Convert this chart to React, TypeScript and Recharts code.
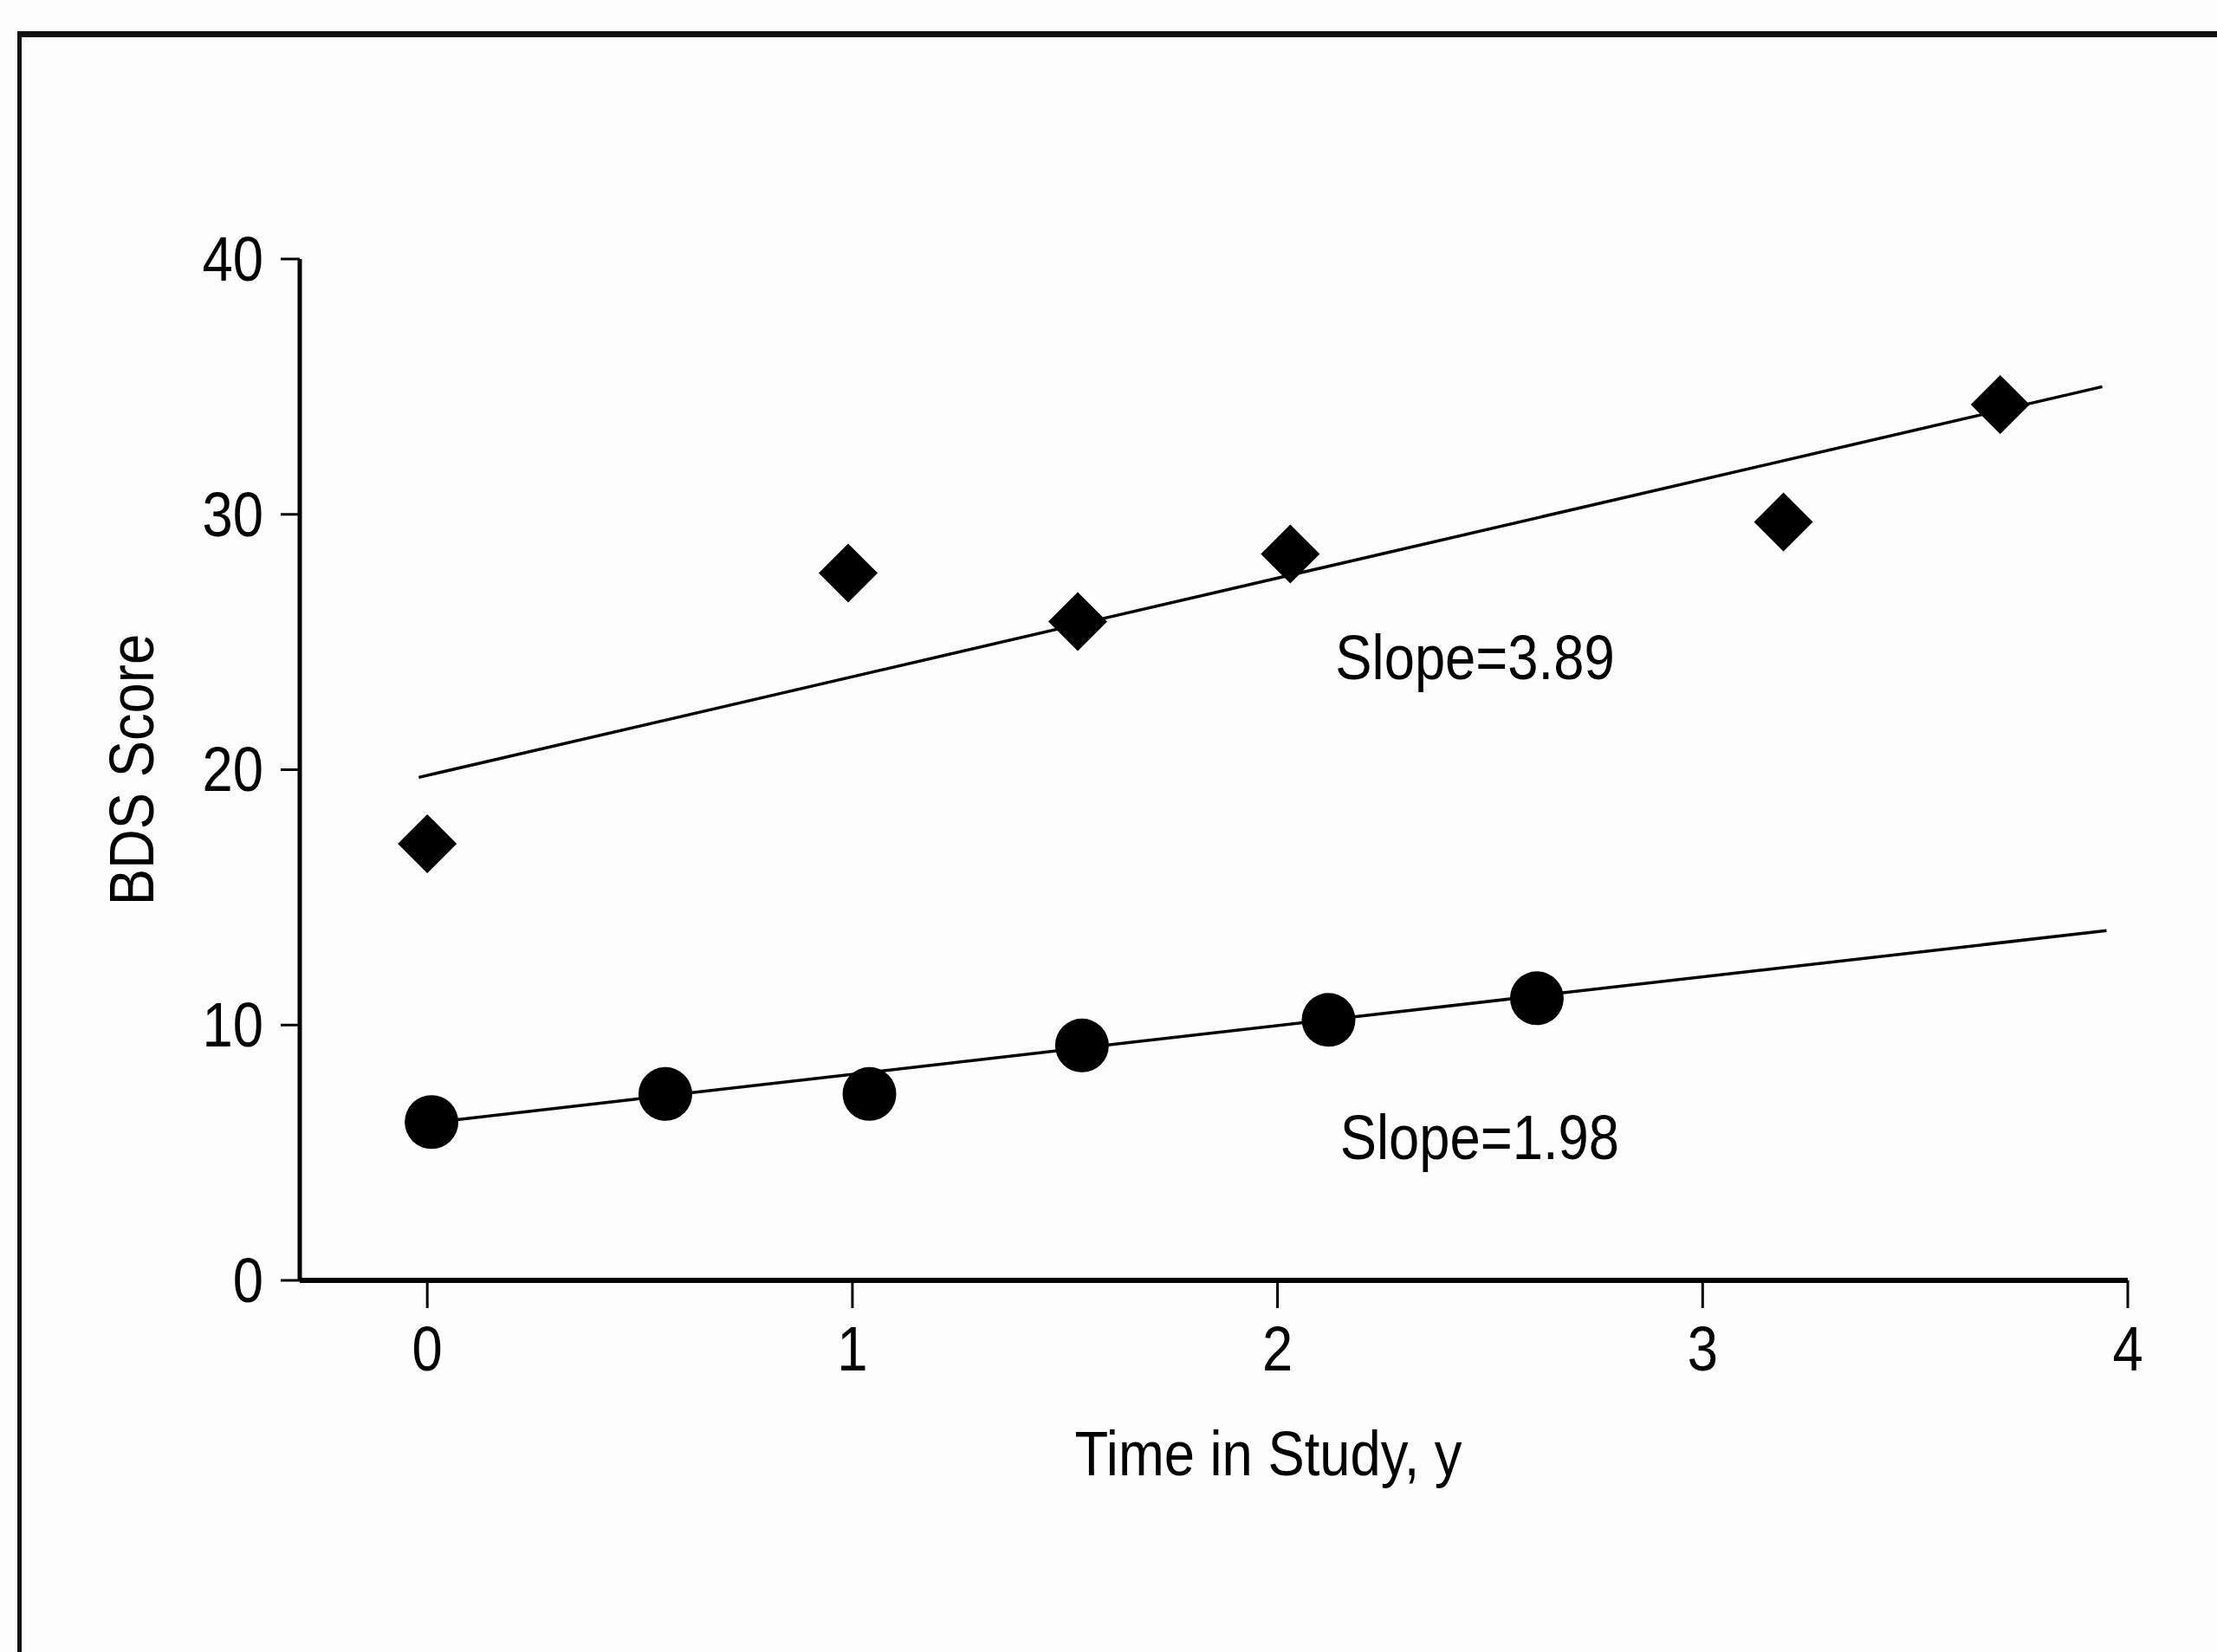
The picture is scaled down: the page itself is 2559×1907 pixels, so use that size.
import {
  ComposedChart,
  Line,
  Scatter,
  XAxis,
  YAxis,
  ReferenceDot,
  Label,
} from "recharts"

const TIME_TICKS = [0, 1, 2, 3, 4]
const SCORE_TICKS = [0, 10, 20, 30, 40]

// diamonds (upper group)
const diamondTime = [0, 0.99, 1.53, 2.03, 3.19, 3.7]
const diamondScore = [17.1, 27.7, 25.8, 28.45, 29.7, 34.3]

// circles (lower group)
const circleTime = [0.01, 0.56, 1.04, 1.54, 2.12, 2.61]
const circleScore = [6.2, 7.3, 7.3, 9.2, 10.2, 11.05]

// fitted lines, end points
const upperFitTime = [-0.02, 3.94]
const upperFitScore = [19.7, 35.0]
const lowerFitTime = [0.02, 3.95]
const lowerFitScore = [6.2, 13.7]

const slopeLabels = ["Slope=3.89", "Slope=1.98"]
const slopeTime = [2.136, 2.147]
const slopeScore = [24.4, 5.6]

// Liberation Sans squeezed horizontally ~ Helvetica Condensed
const FONT = "'Liberation Sans', Arial, sans-serif"
const FS = 72
const SQUEEZE = 0.88

const zip = (xs: number[], ys: number[]) => xs.map((x, i) => ({ x, y: ys[i] }))

const diamonds = zip(diamondTime, diamondScore)
const circles = zip(circleTime, circleScore)
const upperFit = zip(upperFitTime, upperFitScore)
const lowerFit = zip(lowerFitTime, lowerFitScore)

const Diamond = (props: any) => {
  const { cx, cy } = props
  const r = 34
  return (
    <polygon
      points={`${cx},${cy - r} ${cx + r},${cy} ${cx},${cy + r} ${cx - r},${cy}`}
      fill="#000"
    />
  )
}

const Dot = (props: any) => <circle cx={props.cx} cy={props.cy} r={31} fill="#000" />

// condensed text helper
const CText = ({
  x,
  y,
  anchor = "middle",
  baseline = "central",
  rotate = 0,
  children,
}: any) => (
  <text
    transform={`translate(${x},${y}) rotate(${rotate}) scale(${SQUEEZE},1)`}
    textAnchor={anchor}
    dominantBaseline={baseline}
    fontSize={FS}
    fontFamily={FONT}
    fill="#000"
  >
    {children}
  </text>
)

const XTick = (props: any) => (
  <CText x={props.x} y={props.y} baseline="hanging">
    {props.payload.value}
  </CText>
)

const YTick = (props: any) => (
  <CText x={props.x} y={props.y} anchor="end">
    {props.payload.value}
  </CText>
)

export default function App() {
  return (
    <div
      style={{
        position: "absolute",
        left: 0,
        top: 0,
        width: 2559,
        height: 1907,
        overflow: "hidden",
        background: "#fdfdfd",
      }}
    >
      <div
        style={{
          position: "absolute",
          left: 20,
          top: 36,
          width: 2700,
          height: 2000,
          borderTop: "7px solid #111",
          borderLeft: "5px solid #111",
        }}
      />
      <div style={{ position: "absolute", left: 0, top: 0 }}>
        <ComposedChart
          width={2559}
          height={1907}
          margin={{ top: 299, right: 103, left: 152, bottom: 189 }}
        >
          <XAxis
            type="number"
            dataKey="x"
            domain={[-0.3, 4]}
            ticks={TIME_TICKS}
            height={240}
            tickSize={32}
            tickMargin={20}
            tick={XTick}
            axisLine={{ stroke: "#000", strokeWidth: 6 }}
            tickLine={{ stroke: "#000", strokeWidth: 3 }}
          >
            <Label
              position="insideBottom"
              content={(p: any) => {
                const vb = p.viewBox
                return (
                  <CText x={vb.x + vb.width / 2 + 63} y={vb.y + vb.height - 15} baseline="alphabetic">
                    Time in Study, y
                  </CText>
                )
              }}
            />
          </XAxis>
          <YAxis
            type="number"
            dataKey="y"
            domain={[0, 40]}
            ticks={SCORE_TICKS}
            width={194}
            tickSize={22}
            tickMargin={20}
            tick={YTick}
            axisLine={{ stroke: "#000", strokeWidth: 5 }}
            tickLine={{ stroke: "#000", strokeWidth: 3 }}
          >
            <Label
              position="insideLeft"
              content={(p: any) => {
                const vb = p.viewBox
                return (
                  <CText x={vb.x} y={vb.y + vb.height / 2} rotate={-90}>
                    BDS Score
                  </CText>
                )
              }}
            />
          </YAxis>
          <Line
            data={upperFit}
            dataKey="y"
            stroke="#000"
            strokeWidth={3.5}
            dot={false}
            activeDot={false}
            isAnimationActive={false}
          />
          <Line
            data={lowerFit}
            dataKey="y"
            stroke="#000"
            strokeWidth={3.5}
            dot={false}
            activeDot={false}
            isAnimationActive={false}
          />
          <Scatter data={diamonds} dataKey="y" shape={Diamond} isAnimationActive={false} />
          <Scatter data={circles} dataKey="y" shape={Dot} isAnimationActive={false} />
          {slopeLabels.map((t, i) => (
            <ReferenceDot
              key={t}
              x={slopeTime[i]}
              y={slopeScore[i]}
              r={0}
              shape={(p: any) => (
                <CText x={p.cx} y={p.cy} anchor="start">
                  {t}
                </CText>
              )}
            />
          ))}
        </ComposedChart>
      </div>
    </div>
  )
}
